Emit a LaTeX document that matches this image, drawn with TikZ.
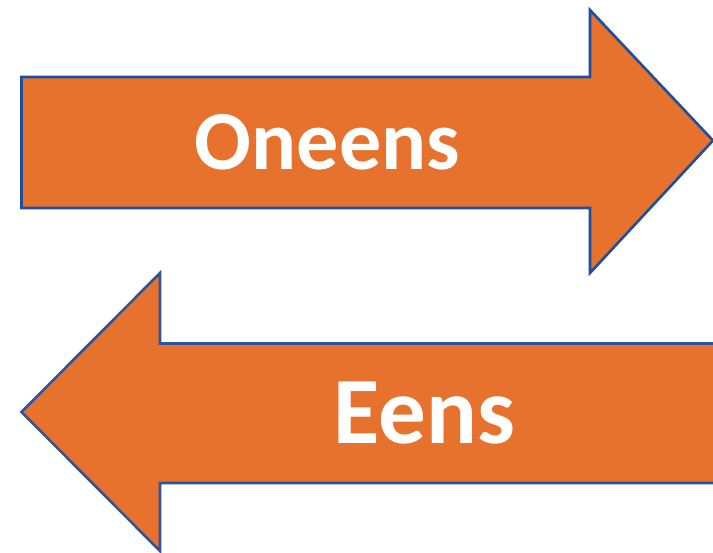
\documentclass[tikz,border=0pt]{standalone}
\usepackage{fontspec}
\setmainfont{Carlito}
\definecolor{arroworange}{HTML}{E6722E}
\definecolor{edgeblueA}{HTML}{1F4E9E}
\definecolor{edgeblueB}{HTML}{30549A}
\tikzset{
  arrowshape/.style={fill=arroworange, draw=#1, line width=2.6pt, line join=miter},
  arrowtext/.style={text=white, font=\bfseries, anchor=base, inner sep=0pt}
}
\begin{document}
\begin{tikzpicture}[x=1pt, y=-1pt]
\useasboundingbox (0,0) rectangle (713,553);
% top arrow (pointing right)
\filldraw[arrowshape=edgeblueA] (21.5,77) -- (590,77) -- (590,10) -- (713,140.5) -- (590,273) -- (590,208) -- (21.5,208) -- cycle;
% bottom arrow (pointing left, right end cut off)
\fill[arroworange] (714,343.5) -- (160,343.5) -- (160,273) -- (21.5,412) -- (160,551) -- (160,483) -- (714,483) -- cycle;
\draw[arrowshape=edgeblueB, fill=none] (714,343.5) -- (160,343.5) -- (160,273) -- (21.5,412) -- (160,551) -- (160,483) -- (714,483);
\node[arrowtext, font=\bfseries\fontsize{84}{90}\selectfont] (oneens) at (327.5,170) {Oneens};
\node[arrowtext, font=\bfseries\fontsize{95}{100}\selectfont] (eens) at (424.5,444) {Eens};
\end{tikzpicture}
\end{document}
